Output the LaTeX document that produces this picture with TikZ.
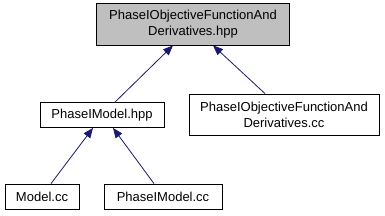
\documentclass[tikz,border=0pt]{standalone}
\usepackage{fontspec}
\setmainfont{Liberation Sans}
\usetikzlibrary{arrows.meta}
\definecolor{edgeblue}{HTML}{191970}
\definecolor{hilite}{HTML}{BFBFBF}
\begin{document}
\begin{tikzpicture}[x=1pt,y=-1pt,
  box/.style={draw=black, line width=0.8pt, fill=white, inner sep=0pt, align=center, font=\fontsize{13}{16}\selectfont},
  arr/.style={draw=edgeblue, line width=0.8pt, -{Triangle[length=10pt,width=8pt]}}]
\useasboundingbox (0,0) rectangle (385,216);
\node[box, fill=hilite, minimum width=193pt, minimum height=42pt] (top) at (193,24) {PhaseIObjectiveFunctionAnd\\Derivatives.hpp};
\node[box, minimum width=124pt, minimum height=25pt] (hpp) at (102,115) {PhaseIModel.hpp};
\node[box, minimum width=190pt, minimum height=41pt] (rcc) at (284,114.5) {PhaseIObjectiveFunctionAnd\\Derivatives.cc};
\node[box, minimum width=74pt, minimum height=25pt] (mcc) at (42,196.5) {Model.cc};
\node[box, minimum width=118pt, minimum height=25pt] (pcc) at (163,196.5) {PhaseIModel.cc};
\draw[arr] ([xshift=13pt]hpp.north) -- ([xshift=-20pt]top.south);
\draw[arr] ([xshift=-19pt]rcc.north) -- ([xshift=20pt]top.south);
\draw[arr] ([xshift=9pt]mcc.north) -- ([xshift=-9pt]hpp.south);
\draw[arr] ([xshift=-9pt]pcc.north) -- ([xshift=11pt]hpp.south);
\end{tikzpicture}
\end{document}
